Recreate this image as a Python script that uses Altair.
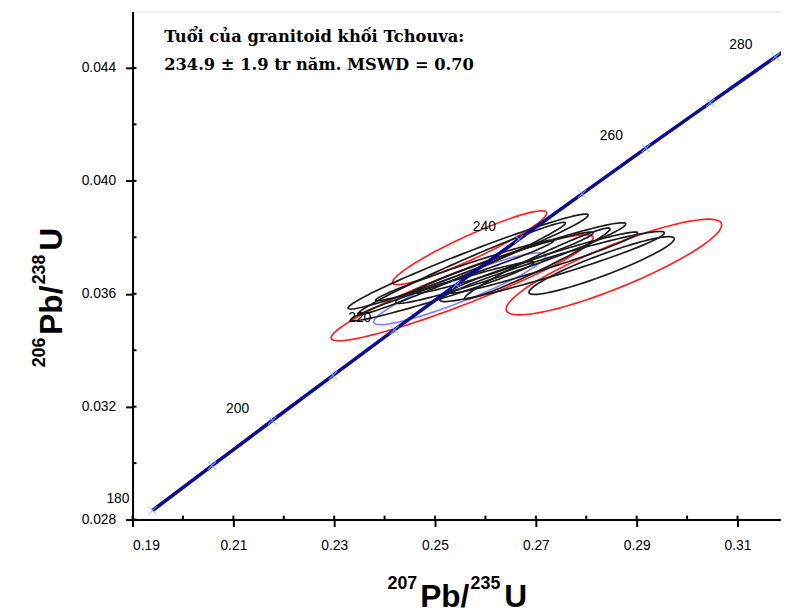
import altair as alt
import numpy as np
import pandas as pd

# ---- Concordia (age in Ma, 207Pb/235U, 206Pb/238U) ----
conc_age = [180, 190, 200, 210, 220, 230, 240, 250, 260, 270, 280, 290]
conc_x = [0.19396, 0.20577, 0.21771, 0.22976, 0.24193, 0.25422, 0.26664,
          0.27917, 0.29183, 0.30462, 0.31753, 0.33057]
conc_y = [0.02832, 0.02991, 0.03151, 0.03311, 0.03472, 0.03632, 0.03793,
          0.03954, 0.04116, 0.04277, 0.04439, 0.04601]
label_ages = [180, 200, 220, 240, 260, 280]

# ---- Error ellipses: left tip, right tip, vertical half-thickness, colour ----
ell_group = ["red", "red", "red", "blue", "black", "black", "black", "black",
             "black", "black", "black", "black", "black", "black"]
ell_x_left = [0.22941, 0.24157, 0.26412, 0.23784, 0.23275, 0.23471, 0.24216,
              0.25098, 0.26863, 0.25588, 0.24608, 0.23333, 0.23824, 0.25294]
ell_y_left = [0.034443, 0.036405, 0.035459, 0.035004, 0.035494, 0.035284,
              0.035704, 0.035774, 0.036054, 0.035844, 0.036054, 0.035074,
              0.035774, 0.036054]
ell_x_right = [0.28137, 0.27216, 0.30686, 0.27196, 0.28039, 0.27588, 0.28784,
               0.29549, 0.29745, 0.28471, 0.28137, 0.26961, 0.27353, 0.29020]
ell_y_right = [0.037980, 0.038856, 0.038436, 0.037350, 0.038786, 0.038506,
               0.038471, 0.038156, 0.037945, 0.038296, 0.038156, 0.037105,
               0.037875, 0.038156]
ell_half = [0.00063, 0.00046, 0.00081, 0.00049, 0.00035, 0.00028, 0.00035,
            0.00035, 0.00039, 0.00028, 0.00025, 0.00025, 0.00021, 0.00025]

# ---- Axis ticks ----
x_ticks = [0.19, 0.21, 0.23, 0.25, 0.27, 0.29, 0.31]
y_ticks = [0.028, 0.032, 0.036, 0.040, 0.044]
x_minor = [0.19, 0.20, 0.21, 0.22, 0.23, 0.24, 0.25, 0.26, 0.27, 0.28, 0.29, 0.30, 0.31]
y_minor = [0.028, 0.030, 0.032, 0.034, 0.036, 0.038, 0.040, 0.042, 0.044]

# ---- Texts ----
note_lines = ["Tuổi của granitoid khối Tchouva:", "234.9 ± 1.9 tr năm. MSWD = 0.70"]
note_x = [0.19627, 0.19627]
note_y = [0.044914, 0.043934]
x_title_parts = ["207", "Pb/", "235", "U"]
y_title_parts = ["206", "Pb/", "238", "U"]

W, H = 656, 514
x_dom = [0.19, 0.19 + W / 5100]
y_dom = [0.028, 0.028 + H / 28556]

# build ellipse outlines from their parameters
rows = []
theta = np.linspace(0, 2 * np.pi, 121)
for i in range(len(ell_group)):
    cx = (ell_x_left[i] + ell_x_right[i]) / 2
    cy = (ell_y_left[i] + ell_y_right[i]) / 2
    hx = (ell_x_right[i] - ell_x_left[i]) / 2
    hy = (ell_y_right[i] - ell_y_left[i]) / 2
    for k, t in enumerate(theta):
        rows.append({"id": i, "grp": ell_group[i], "k": k,
                     "x": cx + hx * np.cos(t),
                     "y": cy + hy * np.cos(t) + ell_half[i] * np.sin(t)})
ell_df = pd.DataFrame(rows)

conc_df = pd.DataFrame({"age": conc_age, "x": conc_x, "y": conc_y})
lab_df = conc_df[conc_df["age"].isin(label_ages)]
mark_df = conc_df[conc_df["age"] <= 280]

xs = alt.Scale(domain=x_dom, nice=False, zero=False)
ys = alt.Scale(domain=y_dom, nice=False, zero=False)

x_axis = alt.Axis(values=x_ticks, format=".2f", title=None, grid=False,
                  domainColor="black", domainWidth=2, tickColor="black", tickWidth=2,
                  tickSize=7, labelFont="Liberation Sans", labelFontSize=14,
                  labelColor="black", labelPadding=12)
y_axis = alt.Axis(values=y_ticks, format=".3f", title=None, grid=False,
                  domainColor="black", domainWidth=2, tickColor="black", tickWidth=2,
                  tickSize=7, labelFont="Liberation Sans", labelFontSize=14,
                  labelColor="black", labelPadding=10)

ellipses = alt.Chart(ell_df).mark_line(strokeWidth=1.7, clip=True).encode(
    x=alt.X("x:Q", scale=xs, axis=x_axis),
    y=alt.Y("y:Q", scale=ys, axis=y_axis),
    detail="id:N",
    order="k:Q",
    color=alt.Color("grp:N", legend=None,
                    scale=alt.Scale(domain=["red", "blue", "black"],
                                    range=["#ff2424", "#8484ff", "#1c1c1c"])),
)

concordia = alt.Chart(conc_df).mark_line(color="#0c0c92", strokeWidth=3.6, clip=True).encode(
    x=alt.X("x:Q", scale=xs), y=alt.Y("y:Q", scale=ys), order="age:Q")

crosses = alt.Chart(mark_df).mark_point(
    shape="M-1,-1L1,1M-1,1L1,-1", size=70, filled=False, color="#9ab8ff",
    strokeWidth=1.2, clip=True).encode(x=alt.X("x:Q", scale=xs), y=alt.Y("y:Q", scale=ys))

age_labels = alt.Chart(lab_df).mark_text(
    font="Liberation Sans", fontSize=14, color="black", dx=-35, dy=-12).encode(
    x=alt.X("x:Q", scale=xs), y=alt.Y("y:Q", scale=ys), text="age:Q")

xminor = alt.Chart(pd.DataFrame({"x": x_minor})).mark_rule(color="black", strokeWidth=2).encode(
    x=alt.X("x:Q", scale=xs), y=alt.value(H), y2=alt.value(H - 4))
yminor = alt.Chart(pd.DataFrame({"y": y_minor})).mark_rule(color="black", strokeWidth=2).encode(
    y=alt.Y("y:Q", scale=ys), x=alt.value(0), x2=alt.value(4))

note = alt.Chart(pd.DataFrame({"t": note_lines, "x": note_x, "y": note_y})).mark_text(
    font="DejaVu Serif", fontSize=16.5, fontWeight="bold", align="left",
    baseline="alphabetic", color="black").encode(
    x=alt.X("x:Q", scale=xs), y=alt.Y("y:Q", scale=ys), text="t:N")

one = pd.DataFrame({"a": [0]})


def piece(txt, px, py, size, angle=0):
    return alt.Chart(one).mark_text(
        text=txt, font="Liberation Sans", fontWeight="bold", fontSize=size,
        align="left", baseline="alphabetic", angle=angle, color="black").encode(
        x=alt.value(px), y=alt.value(py))


# x-axis title  ²⁰⁷Pb/²³⁵U
x_title = [
    piece(x_title_parts[0], 258, 584, 18),
    piece(x_title_parts[1], 291, 602, 32),
    piece(x_title_parts[2], 342, 584, 18),
    piece(x_title_parts[3], 376, 602, 32),
]
# y-axis title  ²⁰⁶Pb/²³⁸U (rotated)
y_title = [
    piece(y_title_parts[0], -89, 360, 18, 270),
    piece(y_title_parts[1], -71, 327, 32, 270),
    piece(y_title_parts[2], -89, 276, 18, 270),
    piece(y_title_parts[3], -71, 242, 32, 270),
]

chart = alt.layer(ellipses, concordia, crosses, age_labels, xminor, yminor, note,
                  *x_title, *y_title).properties(
    width=W, height=H,
    autosize=alt.AutoSizeParams(type="none"),
    padding={"left": 126, "top": 0, "right": 0, "bottom": 92},
).configure_view(stroke="black", strokeWidth=2).configure(background="white")

chart.save("out.html", embed_options={"renderer": "svg", "actions": False})
